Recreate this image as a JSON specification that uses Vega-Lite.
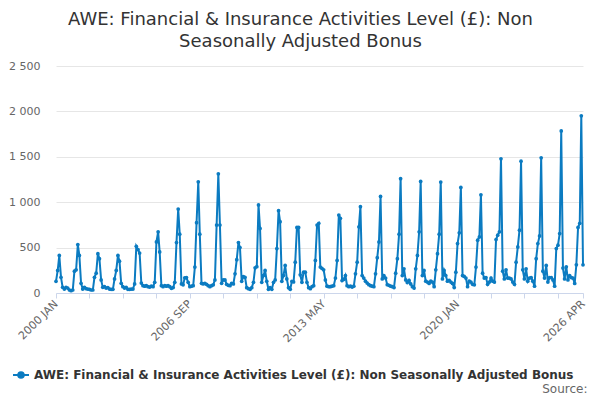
{
  "$schema": "https://vega.github.io/schema/vega-lite/v6.json",
  "width": 527,
  "height": 227,
  "autosize": {"type": "none"},
  "padding": {"left": 56, "top": 66, "right": 17, "bottom": 107},
  "background": "white",
  "config": {
    "view": {"stroke": null},
    "font": "DejaVu Sans"
  },
  "title": {
    "text": ["AWE: Financial & Insurance Activities Level (£): Non", "Seasonally Adjusted Bonus"],
    "fontSize": 18,
    "fontWeight": "normal",
    "color": "#333333",
    "anchor": "middle",
    "dx": -19,
    "offset": 9,
    "lineHeight": 22
  },
  "data": {
    "values": [
      {"month": "2000-01", "value": 129}, {"month": "2000-02", "value": 248}, {"month": "2000-03", "value": 414}, {"month": "2000-04", "value": 173},
      {"month": "2000-05", "value": 62}, {"month": "2000-06", "value": 44}, {"month": "2000-07", "value": 62}, {"month": "2000-08", "value": 55},
      {"month": "2000-09", "value": 33}, {"month": "2000-10", "value": 25}, {"month": "2000-11", "value": 33}, {"month": "2000-12", "value": 240},
      {"month": "2001-01", "value": 255}, {"month": "2001-02", "value": 533}, {"month": "2001-03", "value": 414}, {"month": "2001-04", "value": 107},
      {"month": "2001-05", "value": 44}, {"month": "2001-06", "value": 62}, {"month": "2001-07", "value": 48}, {"month": "2001-08", "value": 44},
      {"month": "2001-09", "value": 40}, {"month": "2001-10", "value": 33}, {"month": "2001-11", "value": 33}, {"month": "2001-12", "value": 173},
      {"month": "2002-01", "value": 218}, {"month": "2002-02", "value": 433}, {"month": "2002-03", "value": 378}, {"month": "2002-04", "value": 144},
      {"month": "2002-05", "value": 62}, {"month": "2002-06", "value": 70}, {"month": "2002-07", "value": 55}, {"month": "2002-08", "value": 60},
      {"month": "2002-09", "value": 44}, {"month": "2002-10", "value": 40}, {"month": "2002-11", "value": 40}, {"month": "2002-12", "value": 155},
      {"month": "2003-01", "value": 248}, {"month": "2003-02", "value": 414}, {"month": "2003-03", "value": 351}, {"month": "2003-04", "value": 107},
      {"month": "2003-05", "value": 70}, {"month": "2003-06", "value": 55}, {"month": "2003-07", "value": 62}, {"month": "2003-08", "value": 40},
      {"month": "2003-09", "value": 40}, {"month": "2003-10", "value": 44}, {"month": "2003-11", "value": 44}, {"month": "2003-12", "value": 100},
      {"month": "2004-01", "value": 514}, {"month": "2004-02", "value": 478}, {"month": "2004-03", "value": 440}, {"month": "2004-04", "value": 110},
      {"month": "2004-05", "value": 80}, {"month": "2004-06", "value": 75}, {"month": "2004-07", "value": 80}, {"month": "2004-08", "value": 70},
      {"month": "2004-09", "value": 65}, {"month": "2004-10", "value": 75}, {"month": "2004-11", "value": 70}, {"month": "2004-12", "value": 118},
      {"month": "2005-01", "value": 563}, {"month": "2005-02", "value": 674}, {"month": "2005-03", "value": 452}, {"month": "2005-04", "value": 81},
      {"month": "2005-05", "value": 70}, {"month": "2005-06", "value": 81}, {"month": "2005-07", "value": 75}, {"month": "2005-08", "value": 81},
      {"month": "2005-09", "value": 70}, {"month": "2005-10", "value": 51}, {"month": "2005-11", "value": 60}, {"month": "2005-12", "value": 118},
      {"month": "2006-01", "value": 555}, {"month": "2006-02", "value": 925}, {"month": "2006-03", "value": 648}, {"month": "2006-04", "value": 100},
      {"month": "2006-05", "value": 90}, {"month": "2006-06", "value": 167}, {"month": "2006-07", "value": 170}, {"month": "2006-08", "value": 118},
      {"month": "2006-09", "value": 70}, {"month": "2006-10", "value": 75}, {"month": "2006-11", "value": 81}, {"month": "2006-12", "value": 285},
      {"month": "2007-01", "value": 774}, {"month": "2007-02", "value": 1225}, {"month": "2007-03", "value": 648}, {"month": "2007-04", "value": 107},
      {"month": "2007-05", "value": 100}, {"month": "2007-06", "value": 107}, {"month": "2007-07", "value": 95}, {"month": "2007-08", "value": 81},
      {"month": "2007-09", "value": 70}, {"month": "2007-10", "value": 81}, {"month": "2007-11", "value": 90}, {"month": "2007-12", "value": 144},
      {"month": "2008-01", "value": 748}, {"month": "2008-02", "value": 1312}, {"month": "2008-03", "value": 748}, {"month": "2008-04", "value": 107},
      {"month": "2008-05", "value": 144}, {"month": "2008-06", "value": 144}, {"month": "2008-07", "value": 95}, {"month": "2008-08", "value": 85},
      {"month": "2008-09", "value": 80}, {"month": "2008-10", "value": 107}, {"month": "2008-11", "value": 100}, {"month": "2008-12", "value": 211},
      {"month": "2009-01", "value": 367}, {"month": "2009-02", "value": 555}, {"month": "2009-03", "value": 500}, {"month": "2009-04", "value": 129},
      {"month": "2009-05", "value": 181}, {"month": "2009-06", "value": 173}, {"month": "2009-07", "value": 59}, {"month": "2009-08", "value": 48},
      {"month": "2009-09", "value": 41}, {"month": "2009-10", "value": 59}, {"month": "2009-11", "value": 118}, {"month": "2009-12", "value": 278},
      {"month": "2010-01", "value": 290}, {"month": "2010-02", "value": 970}, {"month": "2010-03", "value": 711}, {"month": "2010-04", "value": 118},
      {"month": "2010-05", "value": 192}, {"month": "2010-06", "value": 248}, {"month": "2010-07", "value": 129}, {"month": "2010-08", "value": 41},
      {"month": "2010-09", "value": 59}, {"month": "2010-10", "value": 41}, {"month": "2010-11", "value": 118}, {"month": "2010-12", "value": 144},
      {"month": "2011-01", "value": 489}, {"month": "2011-02", "value": 907}, {"month": "2011-03", "value": 785}, {"month": "2011-04", "value": 129},
      {"month": "2011-05", "value": 192}, {"month": "2011-06", "value": 303}, {"month": "2011-07", "value": 155}, {"month": "2011-08", "value": 59},
      {"month": "2011-09", "value": 41}, {"month": "2011-10", "value": 129}, {"month": "2011-11", "value": 122}, {"month": "2011-12", "value": 340},
      {"month": "2012-01", "value": 722}, {"month": "2012-02", "value": 722}, {"month": "2012-03", "value": 200}, {"month": "2012-04", "value": 118},
      {"month": "2012-05", "value": 229}, {"month": "2012-06", "value": 229}, {"month": "2012-07", "value": 118}, {"month": "2012-08", "value": 59},
      {"month": "2012-09", "value": 48}, {"month": "2012-10", "value": 70}, {"month": "2012-11", "value": 81}, {"month": "2012-12", "value": 359},
      {"month": "2013-01", "value": 748}, {"month": "2013-02", "value": 767}, {"month": "2013-03", "value": 285}, {"month": "2013-04", "value": 270},
      {"month": "2013-05", "value": 255}, {"month": "2013-06", "value": 144}, {"month": "2013-07", "value": 75}, {"month": "2013-08", "value": 70},
      {"month": "2013-09", "value": 70}, {"month": "2013-10", "value": 75}, {"month": "2013-11", "value": 80}, {"month": "2013-12", "value": 164},
      {"month": "2014-01", "value": 359}, {"month": "2014-02", "value": 859}, {"month": "2014-03", "value": 822}, {"month": "2014-04", "value": 137},
      {"month": "2014-05", "value": 150}, {"month": "2014-06", "value": 192}, {"month": "2014-07", "value": 80}, {"month": "2014-08", "value": 70},
      {"month": "2014-09", "value": 75}, {"month": "2014-10", "value": 65}, {"month": "2014-11", "value": 75}, {"month": "2014-12", "value": 211},
      {"month": "2015-01", "value": 340}, {"month": "2015-02", "value": 729}, {"month": "2015-03", "value": 951}, {"month": "2015-04", "value": 192},
      {"month": "2015-05", "value": 165}, {"month": "2015-06", "value": 130}, {"month": "2015-07", "value": 110}, {"month": "2015-08", "value": 92},
      {"month": "2015-09", "value": 80}, {"month": "2015-10", "value": 75}, {"month": "2015-11", "value": 70}, {"month": "2015-12", "value": 211},
      {"month": "2016-01", "value": 389}, {"month": "2016-02", "value": 563}, {"month": "2016-03", "value": 1063}, {"month": "2016-04", "value": 155},
      {"month": "2016-05", "value": 192}, {"month": "2016-06", "value": 164}, {"month": "2016-07", "value": 92}, {"month": "2016-08", "value": 85},
      {"month": "2016-09", "value": 75}, {"month": "2016-10", "value": 70}, {"month": "2016-11", "value": 60}, {"month": "2016-12", "value": 218},
      {"month": "2017-01", "value": 378}, {"month": "2017-02", "value": 648}, {"month": "2017-03", "value": 1259}, {"month": "2017-04", "value": 192},
      {"month": "2017-05", "value": 266}, {"month": "2017-06", "value": 144}, {"month": "2017-07", "value": 115}, {"month": "2017-08", "value": 140},
      {"month": "2017-09", "value": 100}, {"month": "2017-10", "value": 70}, {"month": "2017-11", "value": 55}, {"month": "2017-12", "value": 266},
      {"month": "2018-01", "value": 414}, {"month": "2018-02", "value": 674}, {"month": "2018-03", "value": 1229}, {"month": "2018-04", "value": 192},
      {"month": "2018-05", "value": 248}, {"month": "2018-06", "value": 130}, {"month": "2018-07", "value": 120}, {"month": "2018-08", "value": 105},
      {"month": "2018-09", "value": 130}, {"month": "2018-10", "value": 120}, {"month": "2018-11", "value": 70}, {"month": "2018-12", "value": 255},
      {"month": "2019-01", "value": 433}, {"month": "2019-02", "value": 648}, {"month": "2019-03", "value": 1222}, {"month": "2019-04", "value": 155},
      {"month": "2019-05", "value": 248}, {"month": "2019-06", "value": 192}, {"month": "2019-07", "value": 130}, {"month": "2019-08", "value": 140},
      {"month": "2019-09", "value": 120}, {"month": "2019-10", "value": 105}, {"month": "2019-11", "value": 60}, {"month": "2019-12", "value": 229},
      {"month": "2020-01", "value": 544}, {"month": "2020-02", "value": 663}, {"month": "2020-03", "value": 1163}, {"month": "2020-04", "value": 192},
      {"month": "2020-05", "value": 183}, {"month": "2020-06", "value": 164}, {"month": "2020-07", "value": 70}, {"month": "2020-08", "value": 130},
      {"month": "2020-09", "value": 120}, {"month": "2020-10", "value": 95}, {"month": "2020-11", "value": 90}, {"month": "2020-12", "value": 285},
      {"month": "2021-01", "value": 581}, {"month": "2021-02", "value": 618}, {"month": "2021-03", "value": 1081}, {"month": "2021-04", "value": 218},
      {"month": "2021-05", "value": 164}, {"month": "2021-06", "value": 170}, {"month": "2021-07", "value": 95}, {"month": "2021-08", "value": 120},
      {"month": "2021-09", "value": 164}, {"month": "2021-10", "value": 130}, {"month": "2021-11", "value": 120}, {"month": "2021-12", "value": 589},
      {"month": "2022-01", "value": 637}, {"month": "2022-02", "value": 674}, {"month": "2022-03", "value": 1478}, {"month": "2022-04", "value": 240},
      {"month": "2022-05", "value": 155}, {"month": "2022-06", "value": 255}, {"month": "2022-07", "value": 164}, {"month": "2022-08", "value": 164},
      {"month": "2022-09", "value": 155}, {"month": "2022-10", "value": 120}, {"month": "2022-11", "value": 95}, {"month": "2022-12", "value": 340},
      {"month": "2023-01", "value": 507}, {"month": "2023-02", "value": 692}, {"month": "2023-03", "value": 1452}, {"month": "2023-04", "value": 255},
      {"month": "2023-05", "value": 155}, {"month": "2023-06", "value": 266}, {"month": "2023-07", "value": 130}, {"month": "2023-08", "value": 164},
      {"month": "2023-09", "value": 170}, {"month": "2023-10", "value": 130}, {"month": "2023-11", "value": 75}, {"month": "2023-12", "value": 378},
      {"month": "2024-01", "value": 544}, {"month": "2024-02", "value": 629}, {"month": "2024-03", "value": 1489}, {"month": "2024-04", "value": 240},
      {"month": "2024-05", "value": 164}, {"month": "2024-06", "value": 303}, {"month": "2024-07", "value": 120}, {"month": "2024-08", "value": 170},
      {"month": "2024-09", "value": 170}, {"month": "2024-10", "value": 144}, {"month": "2024-11", "value": 75}, {"month": "2024-12", "value": 489},
      {"month": "2025-01", "value": 526}, {"month": "2025-02", "value": 655}, {"month": "2025-03", "value": 1785}, {"month": "2025-04", "value": 274},
      {"month": "2025-05", "value": 155}, {"month": "2025-06", "value": 289}, {"month": "2025-07", "value": 144}, {"month": "2025-08", "value": 192},
      {"month": "2025-09", "value": 170}, {"month": "2025-10", "value": 164}, {"month": "2025-11", "value": 105}, {"month": "2025-12", "value": 311},
      {"month": "2026-01", "value": 722}, {"month": "2026-02", "value": 767}, {"month": "2026-03", "value": 1951}, {"month": "2026-04", "value": 311}
    ]
  },
  "mark": {
    "type": "line",
    "strokeWidth": 2,
    "point": {"filled": true, "size": 14}
  },
  "encoding": {
    "x": {
      "field": "month",
      "type": "temporal",
      "scale": {
        "type": "utc",
        "domain": [
          {"year": 2000, "month": 1, "date": 1, "utc": true},
          {"year": 2026, "month": 4, "date": 1, "utc": true}
        ]
      },
      "axis": {
        "values": [
          {"year": 2000, "month": 1, "date": 1, "utc": true},
          {"year": 2001, "month": 9, "date": 1, "utc": true},
          {"year": 2003, "month": 5, "date": 1, "utc": true},
          {"year": 2005, "month": 1, "date": 1, "utc": true},
          {"year": 2006, "month": 9, "date": 1, "utc": true},
          {"year": 2008, "month": 5, "date": 1, "utc": true},
          {"year": 2010, "month": 1, "date": 1, "utc": true},
          {"year": 2011, "month": 9, "date": 1, "utc": true},
          {"year": 2013, "month": 5, "date": 1, "utc": true},
          {"year": 2015, "month": 1, "date": 1, "utc": true},
          {"year": 2016, "month": 9, "date": 1, "utc": true},
          {"year": 2018, "month": 5, "date": 1, "utc": true},
          {"year": 2020, "month": 1, "date": 1, "utc": true},
          {"year": 2021, "month": 9, "date": 1, "utc": true},
          {"year": 2023, "month": 5, "date": 1, "utc": true},
          {"year": 2025, "month": 1, "date": 1, "utc": true},
          {"year": 2026, "month": 4, "date": 1, "utc": true}
        ],
        "labelExpr": "indexof(['2000-01','2006-09','2013-05','2020-01','2026-04'], utcFormat(datum.value, '%Y-%m')) >= 0 ? upper(utcFormat(datum.value, '%Y %b')) : ''",
        "labelAngle": -45,
        "labelAlign": "right",
        "labelBaseline": "middle",
        "labelColor": "#666666",
        "labelFontSize": 11,
        "labelPadding": 4,
        "labelOverlap": false,
        "labelFlush": false,
        "grid": false,
        "domainColor": "#ccd6eb",
        "tickColor": "#ccd6eb",
        "tickSize": 5,
        "title": "Source:",
        "titleAnchor": "end",
        "titleAlign": "right",
        "titleBaseline": "bottom",
        "titleX": 531,
        "titleY": 102,
        "titleFontSize": 12,
        "titleFontWeight": "normal",
        "titleColor": "#666666"
      }
    },
    "y": {
      "field": "value",
      "type": "quantitative",
      "scale": {"domain": [0, 2500], "nice": false},
      "axis": {
        "values": [0, 500, 1000, 1500, 2000, 2500],
        "labelExpr": "replace(format(datum.value, ','), ',', ' ')",
        "labelColor": "#666666",
        "labelFontSize": 11,
        "labelPadding": 16,
        "domain": false,
        "ticks": false,
        "gridColor": "#e6e6e6",
        "title": null
      }
    },
    "color": {
      "datum": "AWE: Financial & Insurance Activities Level (£): Non Seasonally Adjusted Bonus",
      "scale": {"range": ["#0b7bc1"]},
      "legend": {
        "orient": "none",
        "legendX": -44,
        "legendY": 300,
        "title": null,
        "labelFontSize": 12,
        "labelFontWeight": "bold",
        "labelColor": "#333333",
        "labelLimit": 600,
        "symbolSize": 256,
        "symbolStrokeWidth": 2,
        "encode": {
          "symbols": {
            "update": {
              "shape": {"value": "M-1,0H1M-0.35,0A0.35,0.35 0 1,0 0.35,0A0.35,0.35 0 1,0 -0.35,0Z"},
              "fill": {"value": "#0b7bc1"},
              "stroke": {"value": "#0b7bc1"}
            }
          }
        }
      }
    }
  }
}
